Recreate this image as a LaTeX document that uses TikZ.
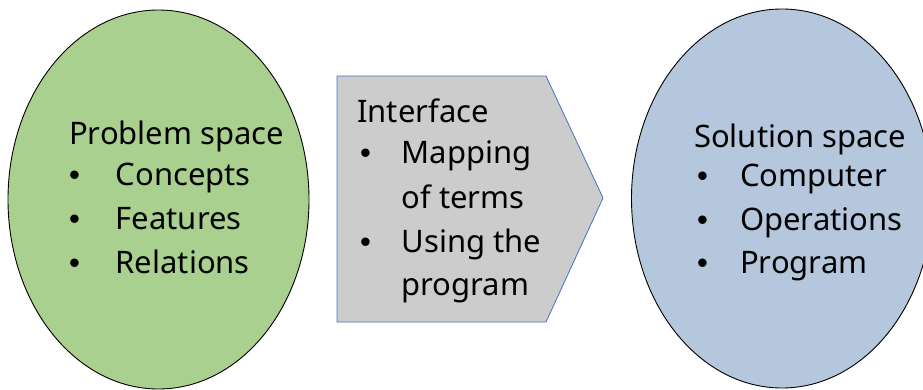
\documentclass[tikz,border=0pt]{standalone}
\usepackage{fontspec}
\setmainfont{Noto Sans}
\newfontfamily\bulletfont{Liberation Sans}
\usetikzlibrary{shapes.geometric}
\definecolor{probgreen}{HTML}{A9D08E}
\definecolor{solblue}{HTML}{B4C7DC}
\definecolor{ifgray}{HTML}{CCCCCC}
\definecolor{ifedge}{HTML}{4472C4}
\tikzset{
  space/.style={ellipse, draw=black, line width=0.9pt, inner sep=0pt,
    minimum width=301pt, minimum height=379pt},
  line/.style={anchor=base west, inner sep=0pt, font=\fontsize{31}{36}\selectfont},
  dot/.style={anchor=base west, inner sep=0pt, font=\bulletfont\fontsize{31}{36}\selectfont},
}
\begin{document}
\begin{tikzpicture}[x=1pt,y=1pt]
\useasboundingbox (0,0) rectangle (923,389);

% the two spaces
\node[space, fill=probgreen] (prob) at (158.5,189.5) {};
\node[space, fill=solblue] (sol) at (782,190.5) {};

% interface arrow between them
\coordinate (ia) at (337,313);
\coordinate (ib) at (546,313);
\coordinate (ic) at (603,191);
\coordinate (id) at (546,67);
\coordinate (ie) at (337,67);
\draw[ifedge, fill=ifgray, line width=0.8pt] (ia) -- (ib) -- (ic) -- (id) -- (ie) -- cycle;

% problem space text
\node[line] (p0) at (69,244) {Problem space};
\node[dot] (pb1) at (69,204) {•};
\node[line] (p1) at (115.5,204) {Concepts};
\node[dot] (pb2) at (69,160) {•};
\node[line] (p2) at (115.5,160) {Features};
\node[dot] (pb3) at (69,116) {•};
\node[line] (p3) at (115.5,116) {Relations};

% interface text
\node[line] (i0) at (357,266) {Interface};
\node[dot] (ib1) at (360,226) {•};
\node[line] (i1) at (401.5,226) {Mapping};
\node[line] (i2) at (401.5,181) {of terms};
\node[dot] (ib2) at (360,137) {•};
\node[line] (i3) at (401.5,137) {Using the};
\node[line] (i4) at (401.5,94) {program};

% solution space text
\node[line] (s0) at (694,242) {Solution space};
\node[dot] (sb1) at (697,203) {•};
\node[line] (s1) at (740,203) {Computer};
\node[dot] (sb2) at (697,159) {•};
\node[line] (s2) at (740,159) {Operations};
\node[dot] (sb3) at (697,116) {•};
\node[line] (s3) at (740,116) {Program};
\end{tikzpicture}
\end{document}
